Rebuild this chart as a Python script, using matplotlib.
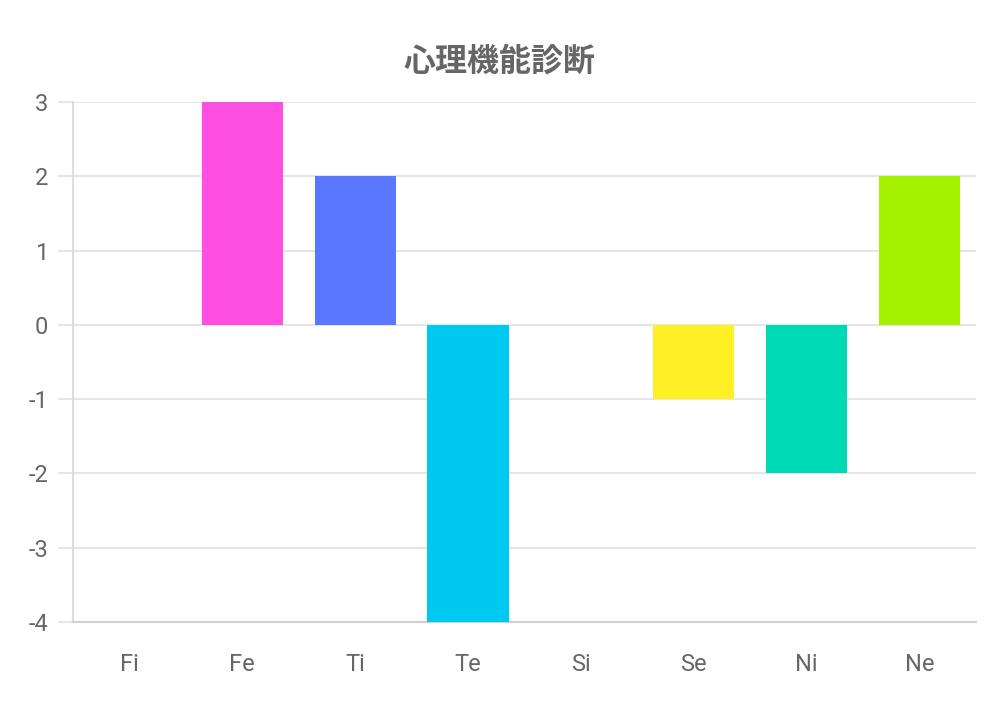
import matplotlib
matplotlib.use("Agg")
import matplotlib.pyplot as plt

categories = ["Fi", "Fe", "Ti", "Te", "Si", "Se", "Ni", "Ne"]
scores = [0, 3, 2, -4, 0, -1, -2, 2]
bar_colors = ["#FF6384", "#FF4FE2", "#5A78FF", "#00C9F1",
              "#36A2EB", "#FFEF24", "#00D9B6", "#A5F200"]
y_ticks = [3, 2, 1, 0, -1, -2, -3, -4]

plt.rcParams['font.family'] = ['Roboto', 'Noto Sans CJK JP', 'DejaVu Sans']

fig = plt.figure(figsize=(9.99, 7.05), dpi=100)
ax = fig.add_axes([0.0731, 0.1177, 0.9039, 0.7376])

ax.bar(range(len(categories)), scores, width=0.72, color=bar_colors, zorder=3)

ax.set_xlim(-0.5, len(categories) - 0.5)
ax.set_ylim(-4, 3)
ax.set_yticks(y_ticks)
ax.set_yticklabels([str(v) for v in y_ticks])
ax.set_xticks(range(len(categories)))
ax.set_xticklabels(categories)

ax.grid(axis='y', color='#e6e6e6', linewidth=1.5, zorder=0)
ax.tick_params(axis='y', length=11, width=1.5, color='#e6e6e6', pad=7,
               labelsize=17, labelcolor='#666666')
ax.tick_params(axis='x', length=0, pad=22, labelsize=17, labelcolor='#666666')

for side in ['top', 'right']:
    ax.spines[side].set_visible(False)
ax.spines['left'].set_color('#dddddd')
ax.spines['left'].set_linewidth(1.5)
ax.spines['bottom'].set_color('#d0d0d0')
ax.spines['bottom'].set_linewidth(1.5)

fig.text(0.5, 0.913, "心理機能診断", ha='center', va='center', fontsize=23,
         fontweight='bold', color='#666666',
         family=['Noto Sans CJK JP', 'DejaVu Sans'])

fig.savefig("out.png", dpi=100, facecolor='white')
